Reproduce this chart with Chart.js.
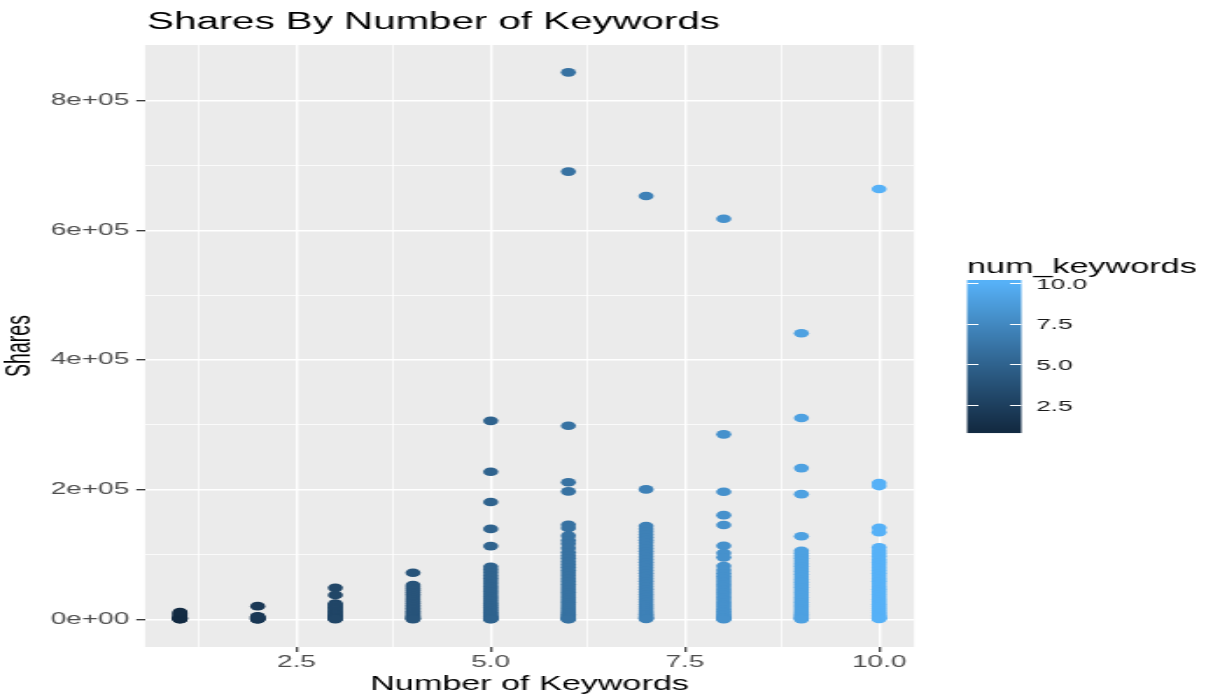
<!DOCTYPE html>
<html>
<head>
<meta charset="utf-8">
<title>Shares By Number of Keywords</title>
<script src="https://cdn.jsdelivr.net/npm/chart.js@4.4.1/dist/chart.umd.min.js"></script>
<style>
  html, body { margin: 0; padding: 0; background: #ffffff; overflow: hidden; width: 1206px; height: 698px; }
  /* the chart is laid out on a narrower canvas and widened horizontally */
  #wrap { position: absolute; left: 0; top: 0; width: 689px; height: 698px; transform: scaleX(1.75036); transform-origin: 0 0; }
  canvas { display: block; }
</style>
</head>
<body>
<div id="wrap"><canvas id="chart" width="689" height="698"></canvas></div>
<script>
// ---- data: shares per article, grouped by number of keywords ----
const keywordCounts = [1, 2, 3, 4, 5, 6, 7, 8, 9, 10];

const shares1 = [600, 900, 1100, 1400, 1800, 2300, 2900, 3600, 4600, 6000, 7600, 9200, 10400, 11700];
const shares2 = [20800, 500, 800, 1100, 1500, 1900, 2400, 3000, 3700, 4500, 5300];
const shares3 = [49000, 37900, 24800, 23000, 21200, 19000, 16800, 14700, 12800, 10900, 9100, 7600, 6200, 4900, 3700, 2700, 1900, 1300, 800];
const shares4 = [72300, 53200, 50800, 48100, 45400, 42200, 39300, 36500, 33400, 30600, 27800, 25100, 22300, 19800, 17400, 15100, 12900, 10800, 8900, 7200, 5700, 4300, 3100, 2100, 1300, 700];
const shares5 = [306300, 227800, 181200, 139800, 113300, 81500, 77200, 72800, 68100, 63900, 59600, 55300, 51000, 47100, 43200, 39400, 35700, 32100, 28600, 25300, 22100, 19100, 16300, 13700, 11200, 9000, 7100, 5400, 3900, 2700, 1700, 1000, 600];
const shares6 = [843300, 690400, 298800, 211600, 197600, 146300, 141200, 129400, 122100, 116800, 110200, 103700, 98900, 94400, 89600, 85100, 80700, 76200, 71800, 67500, 63100, 58900, 54600, 50300, 46200, 42100, 38100, 34200, 30300, 26600, 23000, 19600, 16400, 13400, 10700, 8300, 6200, 4400, 2900, 1800, 1000, 600];
const shares7 = [652900, 200700, 144100, 139800, 135600, 131200, 126900, 122500, 118300, 113900, 109600, 105400, 101100, 96800, 92600, 88300, 84100, 79900, 75700, 71500, 67300, 63100, 59000, 54900, 50800, 46700, 42700, 38700, 34800, 30900, 27100, 23400, 19900, 16600, 13500, 10700, 8200, 6000, 4200, 2800, 1700, 900];
const shares8 = [617800, 285500, 197000, 161000, 145800, 113900, 102600, 96000, 82600, 76400, 71300, 66900, 62600, 58400, 54200, 50100, 46000, 42000, 38000, 34100, 30300, 26500, 22900, 19400, 16100, 13000, 10200, 7700, 5500, 3700, 2300, 1300, 700];
const shares9 = [441400, 310700, 233500, 193400, 128500, 106200, 102400, 98500, 94500, 90400, 86300, 82200, 78100, 74000, 69900, 65800, 61800, 57800, 53800, 49800, 45800, 41900, 38000, 34200, 30400, 26700, 23100, 19700, 16400, 13300, 10500, 8000, 5800, 4000, 2600, 1500, 800];
const shares10 = [663600, 210500, 205800, 141600, 134800, 111300, 105900, 101600, 97100, 92400, 88200, 84000, 79800, 75600, 71400, 67200, 63100, 59000, 54900, 50800, 46800, 42800, 38900, 35000, 31200, 27500, 23900, 20400, 17100, 14000, 11100, 8500, 6300, 4400, 2900, 1700, 900];

// ---- axis ticks and labels ----
const xMajorTicks = [2.5, 5, 7.5, 10];
const xMinorTicks = [1.25, 3.75, 6.25, 8.75];
const xTickLabels = ['2.5', '5.0', '7.5', '10.0'];
const yMajorTicks = [0, 200000, 400000, 600000, 800000];
const yMinorTicks = [100000, 300000, 500000, 700000];
const yTickLabels = ['0e+00', '2e+05', '4e+05', '6e+05', '8e+05'];
const colourbarTicks = [2.5, 5, 7.5, 10];
const colourbarLabels = ['2.5', '5.0', '7.5', '10.0'];

const sharesByCount = [shares1, shares2, shares3, shares4, shares5, shares6, shares7, shares8, shares9, shares10];

// ---- continuous colour scale (#132B43 -> #56B1F7, interpolated in CIELAB) ----
const LOW = '#132B43', HIGH = '#56B1F7';
const WHITE = [0.95047, 1.0, 1.08883];
function hexToRgb(h) { const n = parseInt(h.slice(1), 16); return [(n >> 16) & 255, (n >> 8) & 255, n & 255]; }
function toLinear(c) { c /= 255; return c <= 0.04045 ? c / 12.92 : Math.pow((c + 0.055) / 1.055, 2.4); }
function fromLinear(c) { const v = c <= 0.0031308 ? 12.92 * c : 1.055 * Math.pow(c, 1 / 2.4) - 0.055; return Math.round(Math.min(1, Math.max(0, v)) * 255); }
function rgbToLab(rgb) {
  const [R, G, B] = rgb.map(toLinear);
  const X = 0.4124564 * R + 0.3575761 * G + 0.1804375 * B;
  const Y = 0.2126729 * R + 0.7151522 * G + 0.0721750 * B;
  const Z = 0.0193339 * R + 0.1191920 * G + 0.9503041 * B;
  const f = t => t > 0.008856 ? Math.cbrt(t) : 7.787 * t + 16 / 116;
  const fx = f(X / WHITE[0]), fy = f(Y / WHITE[1]), fz = f(Z / WHITE[2]);
  return [116 * fy - 16, 500 * (fx - fy), 200 * (fy - fz)];
}
function labToRgb(lab) {
  const fy = (lab[0] + 16) / 116, fx = fy + lab[1] / 500, fz = fy - lab[2] / 200;
  const inv = t => (t * t * t > 0.008856 ? t * t * t : (t - 16 / 116) / 7.787);
  const X = inv(fx) * WHITE[0], Y = inv(fy) * WHITE[1], Z = inv(fz) * WHITE[2];
  const R = 3.2404542 * X - 1.5371385 * Y - 0.4985314 * Z;
  const G = -0.9692660 * X + 1.8760108 * Y + 0.0415560 * Z;
  const B = 0.0556434 * X - 0.2040259 * Y + 1.0572252 * Z;
  return [fromLinear(R), fromLinear(G), fromLinear(B)];
}
const labLow = rgbToLab(hexToRgb(LOW)), labHigh = rgbToLab(hexToRgb(HIGH));
const COLOUR_MIN = 1, COLOUR_MAX = 10;
function colourFor(v) {
  const t = Math.min(1, Math.max(0, (v - COLOUR_MIN) / (COLOUR_MAX - COLOUR_MIN)));
  const lab = labLow.map((c, i) => c + (labHigh[i] - c) * t);
  const [r, g, b] = labToRgb(lab);
  return `rgb(${r},${g},${b})`;
}

// ---- datasets ----
const datasets = keywordCounts.map((k, i) => ({
  label: String(k),
  data: sharesByCount[i].map(s => ({ x: k, y: s })),
  backgroundColor: colourFor(k),
  borderWidth: 0,
  pointRadius: 4.3,
  pointHoverRadius: 4.3
}));

// ---- layout constants (canvas units) ----
const FONT = "'Liberation Sans', Arial, Helvetica, sans-serif";
const Y_MAX_DATA = Math.max(...sharesByCount.flat());
const Y_PAD = 0.05 * Y_MAX_DATA;

const panelBackground = {
  id: 'panelBackground',
  beforeDraw(chart) {
    const { ctx, chartArea: a } = chart;
    ctx.save();
    ctx.fillStyle = '#EBEBEB';
    ctx.fillRect(a.left, a.top, a.right - a.left, a.bottom - a.top);
    ctx.restore();
  }
};

const plotTitle = {
  id: 'plotTitle',
  afterDraw(chart) {
    const { ctx, chartArea: a } = chart;
    ctx.save();
    ctx.font = `23px ${FONT}`;
    ctx.fillStyle = '#000000';
    ctx.textAlign = 'left';
    ctx.textBaseline = 'alphabetic';
    ctx.fillText('Shares By Number of Keywords', a.left + 1.2, 29);
    ctx.restore();
  }
};

// colour bar legend for num_keywords
const colourbar = {
  id: 'colourbar',
  afterDraw(chart) {
    const { ctx } = chart;
    const left = 552.5, width = 31, top = 280, bottom = 433;
    const y1 = 429.4, perUnit = 16.27;               // position of value 1 and spacing per unit
    const yOf = v => y1 - (v - COLOUR_MIN) * perUnit;
    const vOf = y => COLOUR_MIN + (y1 - y) / perUnit;
    ctx.save();
    ctx.font = `19.5px ${FONT}`;
    ctx.fillStyle = '#000000';
    ctx.textAlign = 'left';
    ctx.textBaseline = 'alphabetic';
    ctx.fillText('num_keywords', left, 273);
    for (let y = top; y < bottom; y += 1) {
      ctx.fillStyle = colourFor(vOf(y + 0.5));
      ctx.fillRect(left, y, width, 1.05);
    }
    ctx.strokeStyle = '#FFFFFF';
    ctx.lineWidth = 1;
    ctx.font = `15px ${FONT}`;
    ctx.fillStyle = '#1A1A1A';
    ctx.textBaseline = 'middle';
    colourbarTicks.forEach((v, i) => {
      const y = Math.round(yOf(v)) + 0.5;
      ctx.beginPath();
      ctx.moveTo(left, y); ctx.lineTo(left + 6.5, y);
      ctx.moveTo(left + width - 6.5, y); ctx.lineTo(left + width, y);
      ctx.stroke();
      ctx.fillText(colourbarLabels[i], 592, yOf(v) + 1.5);
    });
    ctx.restore();
  }
};

const isIn = (list, v) => list.some(t => Math.abs(t - v) < 1e-6);

new Chart(document.getElementById('chart'), {
  type: 'scatter',
  data: { datasets },
  plugins: [panelBackground, plotTitle, colourbar],
  options: {
    responsive: false,
    animation: false,
    devicePixelRatio: 1,
    events: [],
    layout: { padding: { left: 0, right: 166.8, top: 45, bottom: 0 } },
    plugins: { legend: { display: false }, tooltip: { enabled: false }, title: { display: false } },
    scales: {
      x: {
        type: 'linear',
        min: 0.55,
        max: 10.45,
        afterBuildTicks(scale) {
          scale.ticks = [...xMinorTicks, ...xMajorTicks].sort((a, b) => a - b).map(v => ({ value: v }));
        },
        afterFit(scale) { scale.height = 51; },
        border: { display: false },
        grid: {
          color: '#FFFFFF',
          lineWidth: ctx => (ctx.tick && isIn(xMajorTicks, ctx.tick.value) ? 1.4 : 0.75),
          drawTicks: true,
          tickLength: 5,
          tickWidth: 1.2,
          tickColor: ctx => (ctx.tick && isIn(xMajorTicks, ctx.tick.value) ? '#333333' : 'rgba(0,0,0,0)')
        },
        ticks: {
          autoSkip: false,
          maxRotation: 0,
          padding: 1,
          color: '#4D4D4D',
          font: { family: FONT, size: 16 },
          callback: v => { const i = xMajorTicks.findIndex(t => Math.abs(t - v) < 1e-6); return i >= 0 ? xTickLabels[i] : ''; }
        },
        title: {
          display: true,
          text: 'Number of Keywords',
          color: '#000000',
          font: { family: FONT, size: 19.5, lineHeight: 1.2 },
          padding: { top: 0, bottom: 2 }
        }
      },
      y: {
        type: 'linear',
        min: -Y_PAD,
        max: Y_MAX_DATA + Y_PAD,
        afterBuildTicks(scale) {
          scale.ticks = [...yMinorTicks, ...yMajorTicks].sort((a, b) => a - b).map(v => ({ value: v }));
        },
        afterFit(scale) { scale.width = 82.84; },
        border: { display: false },
        grid: {
          color: '#FFFFFF',
          lineWidth: ctx => (ctx.tick && isIn(yMajorTicks, ctx.tick.value) ? 1.4 : 0.75),
          drawTicks: true,
          tickLength: 5,
          tickWidth: 1.3,
          tickColor: ctx => (ctx.tick && isIn(yMajorTicks, ctx.tick.value) ? '#333333' : 'rgba(0,0,0,0)')
        },
        ticks: {
          autoSkip: false,
          padding: 4,
          color: '#4D4D4D',
          font: { family: FONT, size: 16 },
          callback: v => { const i = yMajorTicks.findIndex(t => Math.abs(t - v) < 1e-6); return i >= 0 ? yTickLabels[i] : ''; }
        },
        title: {
          display: true,
          text: 'Shares',
          color: '#000000',
          font: { family: FONT, size: 19.5, lineHeight: 1.2 },
          padding: { top: 0, bottom: 0 }
        }
      }
    }
  }
});
</script>
</body>
</html>
